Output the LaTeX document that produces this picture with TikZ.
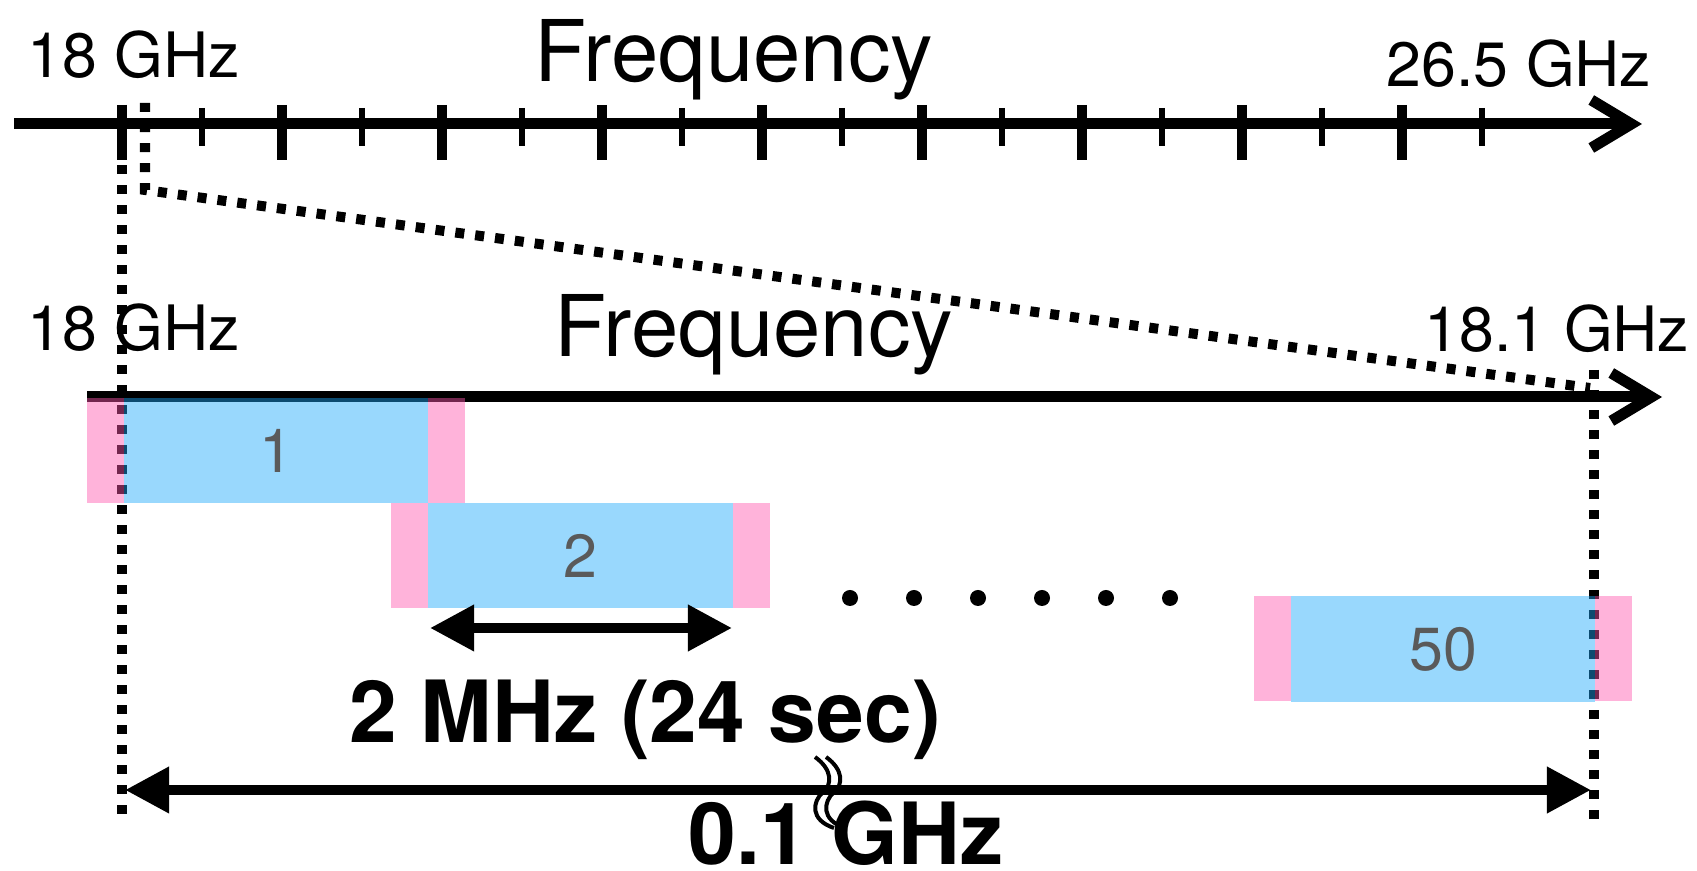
\documentclass[tikz,border=0pt]{standalone}
\usepackage{fontspec}
\setmainfont{TeX Gyre Heros}
\usetikzlibrary{arrows.meta}
\definecolor{pinkc}{RGB}{255,86,173}
\definecolor{bluec}{RGB}{28,168,250}
\definecolor{labgray}{RGB}{90,90,90}
\begin{document}
\begin{tikzpicture}[x=0.01cm,y=-0.01cm,
  axis/.style={line width=0.11cm, -{Straight Barb[length=0.40cm,width=0.48cm]}},
  majortick/.style={line width=0.10cm},
  minortick/.style={line width=0.06cm},
  dotline/.style={line width=0.10cm, dash pattern=on 0.09cm off 0.11cm},
  dimarrow/.style={line width=0.10cm, {Triangle[length=0.44cm,width=0.44cm]}-{Triangle[length=0.44cm,width=0.44cm]}},
  lab/.style={font=\fontsize{17.8}{20}\selectfont, inner sep=0, anchor=base},
  titlelab/.style={font=\fontsize{24.2}{28}\selectfont, inner sep=0, anchor=base},
  boldlab/.style={font=\fontsize{24.4}{28}\selectfont\bfseries, inner sep=0, anchor=base},
  bluebox/.style={fill=bluec, fill opacity=0.45, text opacity=1, text=labgray, minimum width=3.04cm, minimum height=1.05cm, inner sep=0, outer sep=0, font=\fontsize{17.3}{20}\selectfont},
  pinkpart/.style={fill=pinkc, fill opacity=0.45},
  dotc/.style={circle, fill=black, minimum size=0.16cm, inner sep=0},
  breakline/.style={line width=0.04cm}
]
\useasboundingbox (0,0) rectangle (1697,871);

% top axis
\coordinate (ax1s) at (14,124);
\coordinate (ax1e) at (1642,124);
\draw[axis] (ax1s) -- (ax1e);
\foreach \k in {0,...,8} {
  \draw[majortick] ({122+160*\k},105) -- ({122+160*\k},160);
  \draw[minortick] ({202+160*\k},108) -- ({202+160*\k},146);
}
\node[lab] (l18a) at (134,78) {18 GHz};
\node[titlelab] (fr1) at (734,82) {Frequency};
\node[lab] (l265) at (1519,87) {26.5 GHz};

% second axis
\coordinate (ax2s) at (87,397);
\coordinate (ax2e) at (1662,397);
\draw[axis] (ax2s) -- (ax2e);
\node[lab] (l18b) at (134,351) {18 GHz};
\node[titlelab] (fr2) at (754,357) {Frequency};
\node[lab] (l181) at (1557,352) {18.1 GHz};

% dotted guide lines
\coordinate (vl1) at (122,105);
\coordinate (vl2) at (122,822);
\draw[dotline] (vl1) -- (vl2);
\coordinate (vr1) at (1594,370);
\coordinate (vr2) at (1594,822);
\draw[dotline] (vr1) -- (vr2);
\coordinate (z1) at (145,103);
\coordinate (z2) at (145,190);
\coordinate (z3) at (1590,388);
\draw[dotline] (z1) -- (z2) -- (z3);

% boxes
\node[bluebox] (b1) at (276,450.5) {1};
\fill[pinkpart] (b1.north west) rectangle ++(-37,105);
\fill[pinkpart] (b1.north east) rectangle ++(37,105);
\node[bluebox] (b2) at (580.5,555.5) {2};
\fill[pinkpart] (b2.north west) rectangle ++(-37,105);
\fill[pinkpart] (b2.north east) rectangle ++(37,105);
\node[bluebox] (b50) at (1443,649) {50};
\fill[pinkpart] (b50.north west) rectangle ++(-37,105);
\fill[pinkpart] (b50.north east) rectangle ++(37,105);

% dots
\foreach \i in {0,...,5} {
  \node[dotc] (dot\i) at ({850+64*\i},598) {};
}

% 2 MHz arrow
\coordinate (s1) at (430,628);
\coordinate (s2) at (732,628);
\draw[dimarrow] (s1) -- (s2);
\node[boldlab] (mhz) at (645,743) {2 MHz (24 sec)};

% 0.1 GHz arrow
\coordinate (g1) at (125,790);
\coordinate (g2) at (1591,790);
\draw[dimarrow] (g1) -- (g2);
\node[boldlab] (ghz) at (846,865) {0.1 GHz};

% break mark
\foreach \dx in {0,11} {
  \draw[breakline] ({815+\dx},757) .. controls ({833+\dx},770) and ({832+\dx},785) .. ({823+\dx},792)
     .. controls ({812+\dx},802) and ({810+\dx},820) .. ({834+\dx},828);
}
\end{tikzpicture}
\end{document}
